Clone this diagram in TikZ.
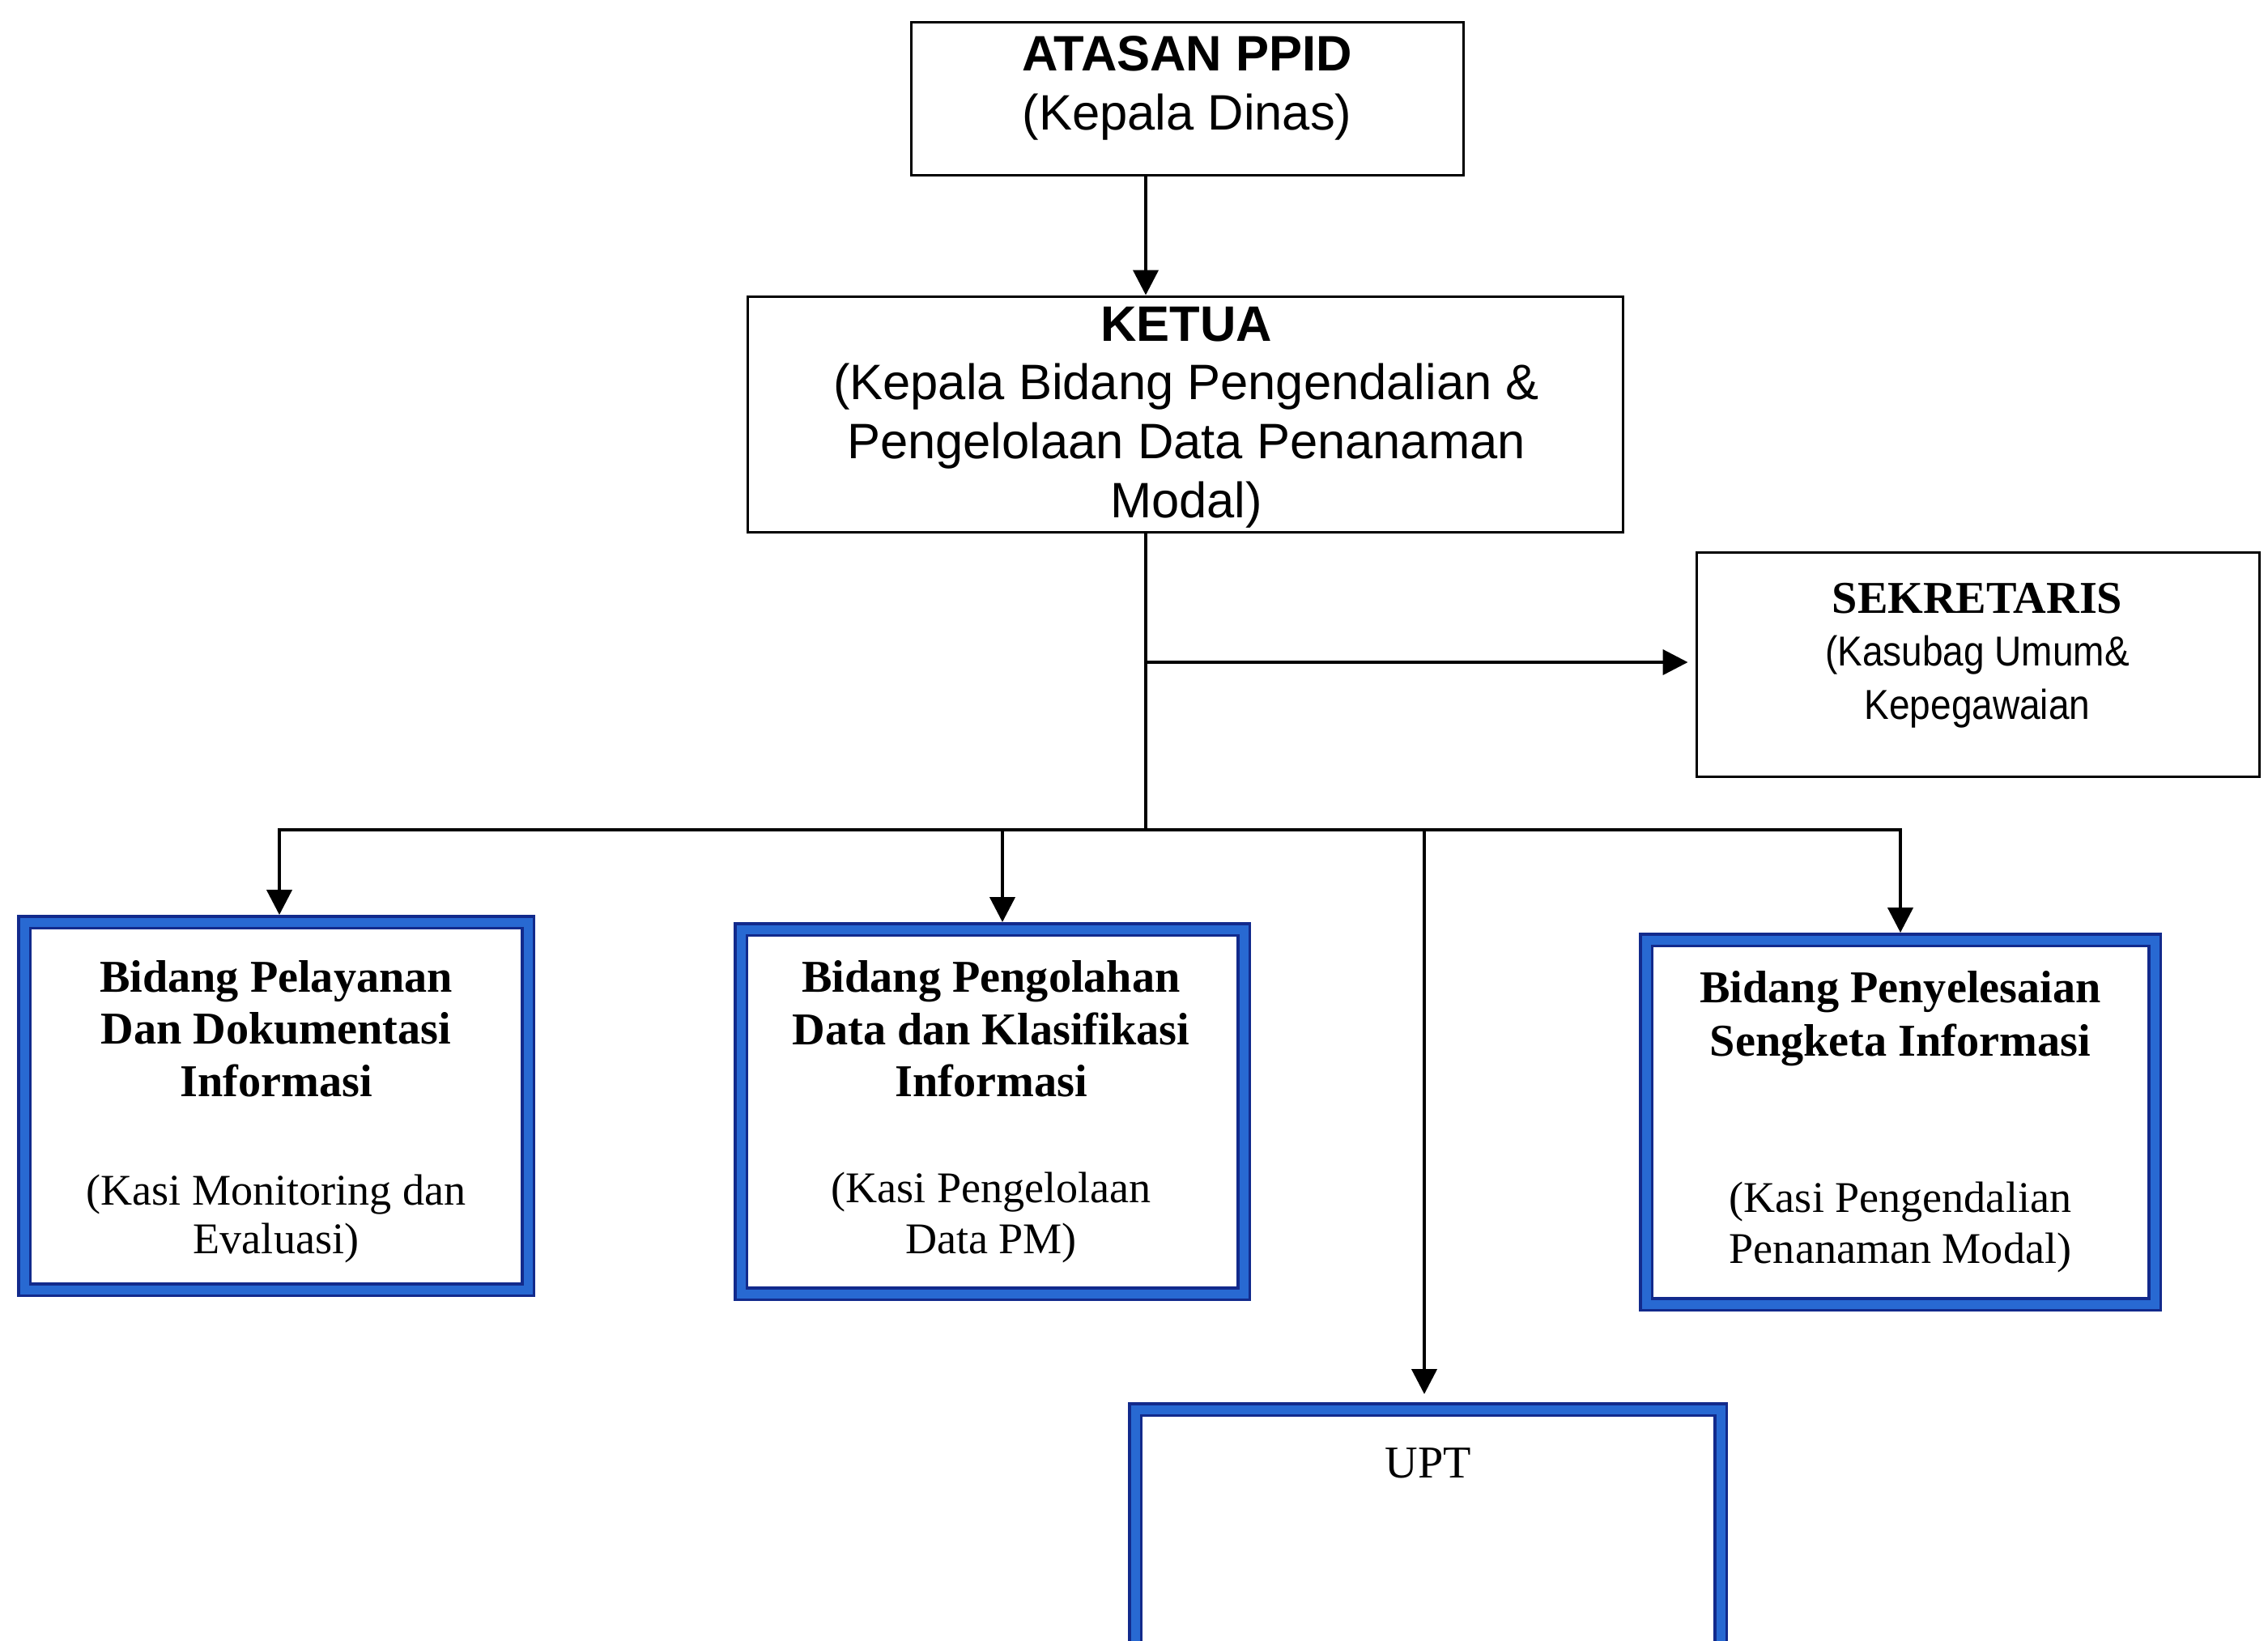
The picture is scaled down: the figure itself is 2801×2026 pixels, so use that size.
\documentclass[tikz,border=0pt]{standalone}
\usepackage{fontspec}
\setmainfont{Liberation Serif}
\newfontfamily\arial{Liberation Sans}
\newfontfamily\arialn[FakeStretch=0.89]{Liberation Sans}
\usetikzlibrary{arrows.meta}
\definecolor{bdark}{RGB}{18,42,140}
\definecolor{bmid}{RGB}{40,105,210}
\newcommand\kasiline[1]{{\fontsize{15.4}{17}\selectfont #1}}
\newcommand\narrowline[1]{{\arialn\fontsize{14.7}{18.6}\selectfont #1}}
\begin{document}
\begin{tikzpicture}[x=0.1mm,y=-0.1mm,
  blackbox/.style={draw=black, line width=0.3mm, fill=white, inner sep=0pt},
  bluebox/.style={draw=bdark, double=bmid, double distance=1.1mm, line width=0.38mm, fill=white, inner sep=0pt, outer sep=0.9mm},
  conn/.style={line width=0.42mm},
  arr/.style={conn, -{Triangle[length=3.1mm,width=3.1mm]}},
  sanstxt/.style={font=\arial\fontsize{17.5}{20.7}\selectfont, align=center, inner sep=0pt},
  seriftxt/.style={font=\fontsize{16}{18.4}\selectfont, align=center, inner sep=0pt}
]
\useasboundingbox (0,0) rectangle (2801,2026);
\fill[white] (0,0) rectangle (2801,2026);

% top boxes
\node[blackbox, minimum width=68.2mm, minimum height=18.9mm] (atasan) at (1466,121.5) {};
\node[sanstxt] (atasantxt) at (1466,109) {\textbf{ATASAN PPID}\\(Kepala Dinas)};

\node[blackbox, minimum width=108.1mm, minimum height=29.1mm] (ketua) at (1463.5,511.5) {};
\node[sanstxt] (ketuatxt) at (1465,515.5) {\textbf{KETUA}\\(Kepala Bidang Pengendalian \&\\Pengelolaan Data Penanaman\\Modal)};

\node[blackbox, minimum width=69.5mm, minimum height=27.7mm] (sek) at (2442.5,820.5) {};
\node[align=center, inner sep=0pt, font=\fontsize{16}{18.6}\selectfont] (sektxt) at (2442,809.5)
  {\textbf{SEKRETARIS}\\\narrowline{(Kasubag Umum\&}\\\narrowline{Kepegawaian}};

% blue boxes
\node[bluebox, minimum width=62.2mm, minimum height=45.4mm] (b1) at (341,1366) {};
\node[seriftxt] (b1txt) at (341,1373)
  {\textbf{Bidang Pelayanan}\\\textbf{Dan Dokumentasi}\\\textbf{Informasi}\\[19.8pt]\kasiline{(Kasi Monitoring dan}\\[-1.5pt]\kasiline{Evaluasi)}};

\node[bluebox, minimum width=62.1mm, minimum height=45.0mm] (b2) at (1225.5,1373) {};
\node[seriftxt] (b2txt) at (1224,1373)
  {\textbf{Bidang Pengolahan}\\\textbf{Data dan Klasifikasi}\\\textbf{Informasi}\\[18.7pt]\kasiline{(Kasi Pengelolaan}\\[-0.5pt]\kasiline{Data PM)}};

\node[bluebox, minimum width=62.8mm, minimum height=45.0mm] (b3) at (2347,1386) {};
\node[seriftxt] (b3txt) at (2347,1385.5)
  {\textbf{Bidang Penyelesaian}\\[0.4pt]\textbf{Sengketa Informasi}\\[36.7pt]\kasiline{(Kasi Pengendalian}\\[-0.6pt]\kasiline{Penanaman Modal)}};

\node[bluebox, minimum width=72.3mm, minimum height=29.9mm] (upt) at (1763.5,1890.5) {};
\node[anchor=base, font=\fontsize{16}{18}\selectfont, inner sep=0pt] (upttxt) at (1764,1825) {UPT};

% connectors
\coordinate (spine) at (1415,0);
\coordinate (sekj) at (1415,818);
\coordinate (junc) at (1415,1025);
\coordinate (b1in) at ([xshift=0.4mm]b1.north);
\coordinate (b2in) at ([xshift=1.25mm]b2.north);
\coordinate (uptin) at ([xshift=-0.45mm]upt.north);
\draw[arr] (atasan.south -| spine) -- (ketua.north -| spine);
\draw[conn] (ketua.south -| spine) -- (junc);
\draw[arr, shorten >=0.9mm] (sekj) -- (sek.west |- sekj);
\draw[arr] (junc) -| (b1in);
\draw[arr] (junc) -| (b3.north);
\draw[arr] (junc -| b2in) -- (b2in);
\draw[arr, shorten >=1mm] (junc -| uptin) -- (uptin);
\end{tikzpicture}
\end{document}
